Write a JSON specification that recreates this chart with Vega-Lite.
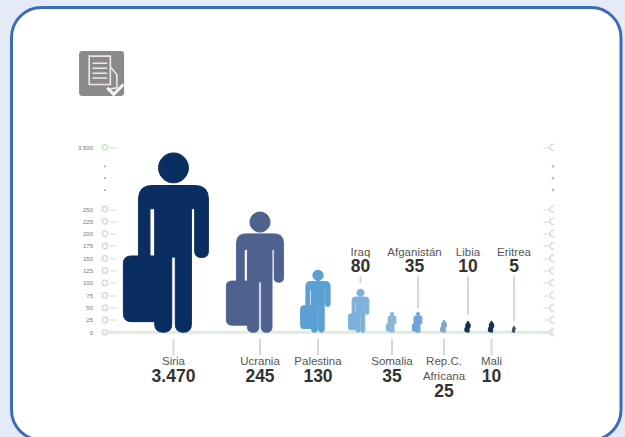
{"$schema":"https://vega.github.io/schema/vega-lite/v6.json","autosize":{"type":"none"},"padding":{"left":11.5,"top":7.5,"right":4,"bottom":0},"width":609.5,"height":432.5,"background":"#e4eaf6","view":{"fill":"#ffffff","stroke":"#3a6cb8","strokeWidth":3,"cornerRadius":30},"config":{"font":"Liberation Sans"},"datasets":{"paises":[{"pais":"Siria","valor":3470,"etiqueta":"3.470","orden":1,"lado":"abajo","desde":-13.5,"hasta":-46},{"pais":"Ucrania","valor":245,"etiqueta":"245","orden":2,"lado":"abajo","desde":-13.5,"hasta":-46},{"pais":"Palestina","valor":130,"etiqueta":"130","orden":3,"lado":"abajo","desde":-13.5,"hasta":-46},{"pais":"Iraq","valor":80,"etiqueta":"80","orden":4,"lado":"arriba","desde":113,"hasta":100},{"pais":"Somalia","valor":35,"etiqueta":"35","orden":5,"lado":"abajo","desde":-13.5,"hasta":-46},{"pais":"Afganistán","valor":35,"etiqueta":"35","orden":6,"lado":"arriba","desde":113,"hasta":49},{"pais":"Rep.C.|Africana","valor":25,"etiqueta":"25","orden":7,"lado":"abajo","desde":-13.5,"hasta":-46},{"pais":"Libia","valor":10,"etiqueta":"10","orden":8,"lado":"arriba","desde":113,"hasta":35},{"pais":"Mali","valor":10,"etiqueta":"10","orden":9,"lado":"abajo","desde":-13.5,"hasta":-46},{"pais":"Eritrea","valor":5,"etiqueta":"5","orden":10,"lado":"arriba","desde":113,"hasta":23}],"marcas":[{"v":0},{"v":25},{"v":50},{"v":75},{"v":100},{"v":125},{"v":150},{"v":175},{"v":200},{"v":225},{"v":250},{"v":3500}],"puntos":[{"v":1250},{"v":1875},{"v":2500}],"base":[{"desde":0,"hasta":11,"v":0}],"icono":[{"icono":"informe"}]},"resolve":{"axis":{"y":"independent"}},"layer":[{"data":{"name":"marcas"},"mark":{"type":"point","shape":"circle","filled":false,"stroke":"#c8e0ca","strokeWidth":1.3,"size":30,"opacity":1},"encoding":{"x":{"datum":0,"type":"quantitative","axis":null,"scale":{"type":"linear","domain":[0,1,2,3,4,5,6,7,8,9,10,11],"range":[93.5,162,248.5,306.5,349,380.5,406.5,432.5,456.5,480,502.5,541.5]}},"y":{"field":"v","type":"quantitative","scale":{"type":"linear","domain":[0,250,3500],"range":[324.8,201.5,139.8]},"axis":{"orient":"left","offset":-104.5,"values":[0,25,50,75,100,125,150,175,200,225,250,3500],"labelExpr":"datum.value==3500?'3.500':datum.label","domain":false,"grid":false,"title":null,"tickColor":"#d5e6d8","tickSize":6.5,"tickWidth":1.2,"labelPadding":17,"labelFontSize":6,"labelColor":"#777777","labelFont":"Liberation Sans"}}}},{"data":{"name":"marcas"},"mark":{"type":"point","shape":"M0.35,-0.94A1,1 0 1 0 0.35,0.94","filled":false,"stroke":"#c8e0ca","strokeWidth":1.3,"size":40,"opacity":1},"encoding":{"x":{"datum":11,"type":"quantitative","axis":null,"scale":{"type":"linear","domain":[0,1,2,3,4,5,6,7,8,9,10,11],"range":[93.5,162,248.5,306.5,349,380.5,406.5,432.5,456.5,480,502.5,541.5]}},"y":{"field":"v","type":"quantitative","scale":{"type":"linear","domain":[0,250,3500],"range":[324.8,201.5,139.8]},"axis":{"orient":"right","offset":-78,"values":[0,25,50,75,100,125,150,175,200,225,250,3500],"labels":false,"domain":false,"grid":false,"title":null,"tickColor":"#d5e6d8","tickSize":7,"tickWidth":1.2}}}},{"data":{"name":"puntos"},"mark":{"type":"point","shape":"square","filled":true,"color":"#aaaaaa","size":3,"opacity":1},"encoding":{"x":{"datum":0,"type":"quantitative","axis":null,"scale":{"type":"linear","domain":[0,1,2,3,4,5,6,7,8,9,10,11],"range":[93.5,162,248.5,306.5,349,380.5,406.5,432.5,456.5,480,502.5,541.5]}},"y":{"field":"v","type":"quantitative","axis":null,"scale":{"type":"linear","domain":[0,250,3500],"range":[324.8,201.5,139.8]}}}},{"data":{"name":"puntos"},"mark":{"type":"point","shape":"square","filled":true,"color":"#bbbbbb","size":6,"opacity":1},"encoding":{"x":{"datum":11,"type":"quantitative","axis":null,"scale":{"type":"linear","domain":[0,1,2,3,4,5,6,7,8,9,10,11],"range":[93.5,162,248.5,306.5,349,380.5,406.5,432.5,456.5,480,502.5,541.5]}},"y":{"field":"v","type":"quantitative","axis":null,"scale":{"type":"linear","domain":[0,250,3500],"range":[324.8,201.5,139.8]}}}},{"data":{"name":"base"},"mark":{"type":"rule","color":"#dfeae0","strokeWidth":3},"encoding":{"x":{"field":"desde","type":"quantitative","axis":null,"scale":{"type":"linear","domain":[0,1,2,3,4,5,6,7,8,9,10,11],"range":[93.5,162,248.5,306.5,349,380.5,406.5,432.5,456.5,480,502.5,541.5]}},"x2":{"field":"hasta"},"y":{"field":"v","type":"quantitative","axis":null,"scale":{"type":"linear","domain":[0,250,3500],"range":[324.8,201.5,139.8]}}}},{"data":{"name":"paises"},"mark":{"type":"rule","color":"#cddcd4","strokeWidth":2},"encoding":{"x":{"field":"orden","type":"quantitative","axis":null,"scale":{"type":"linear","domain":[0,1,2,3,4,5,6,7,8,9,10,11],"range":[93.5,162,248.5,306.5,349,380.5,406.5,432.5,456.5,480,502.5,541.5]}},"y":{"field":"desde","type":"quantitative","axis":null,"scale":{"type":"linear","domain":[0,250,3500],"range":[324.8,201.5,139.8]}},"y2":{"field":"hasta"}}},{"data":{"name":"paises"},"mark":{"type":"point","shape":"M-0.167,-1.837A0.167,0.167 0 1 1 0.167,-1.837A0.167,0.167 0 1 1 -0.167,-1.837ZM-0.24,-1.64L0.24,-1.64Q0.39,-1.64 0.39,-1.49L0.39,-0.905Q0.39,-0.835 0.315,-0.835Q0.237,-0.835 0.237,-0.905L0.237,-1.38L0.2,-1.38L0.2,-0.09Q0.2,0 0.11,0Q0.02,0 0.02,-0.09L0.02,-0.84L-0.02,-0.84L-0.02,-0.09Q-0.02,0 -0.11,0Q-0.21,0 -0.21,-0.09L-0.21,-0.119L-0.47,-0.119Q-0.56,-0.119 -0.56,-0.21L-0.56,-0.77Q-0.56,-0.853 -0.47,-0.853L-0.39,-0.853L-0.39,-1.49Q-0.39,-1.64 -0.24,-1.64ZM-0.263,-1.38L-0.263,-0.853L-0.21,-0.853L-0.21,-1.38Z","filled":true,"opacity":1,"strokeWidth":1},"encoding":{"x":{"field":"orden","type":"quantitative","axis":null,"scale":{"type":"linear","domain":[0,1,2,3,4,5,6,7,8,9,10,11],"range":[93.5,162,248.5,306.5,349,380.5,406.5,432.5,456.5,480,502.5,541.5]}},"y":{"datum":0,"type":"quantitative","axis":null,"scale":{"type":"linear","domain":[0,250,3500],"range":[324.8,201.5,139.8]}},"size":{"field":"valor","type":"quantitative","legend":null,"scale":{"type":"linear","domain":[5,10,25,35,80,130,245,3470],"range":[36,121,144,400,1849,3844,14400,32041]}},"color":{"field":"pais","type":"nominal","legend":null,"scale":{"domain":["Siria","Ucrania","Palestina","Iraq","Somalia","Afganistán","Rep.C.|Africana","Libia","Mali","Eritrea"],"range":["#0a2d62","#4f628f","#5b9fd3","#7db1da","#8ab4d8","#6fa3d6","#7fa5c9","#12305a","#12305a","#3a5068"]}},"stroke":{"field":"pais","type":"nominal","legend":null,"scale":{"domain":["Siria","Ucrania","Palestina","Iraq","Somalia","Afganistán","Rep.C.|Africana","Libia","Mali","Eritrea"],"range":["#0a2d62","#4f628f","#5b9fd3","#7db1da","#8ab4d8","#6fa3d6","#7fa5c9","#12305a","#12305a","#3a5068"]}}}},{"data":{"name":"paises"},"transform":[{"filter":"datum.lado=='abajo'"}],"mark":{"type":"text","fontSize":11.5,"color":"#555555","baseline":"top","lineBreak":"|","lineHeight":14.5},"encoding":{"x":{"field":"orden","type":"quantitative","axis":null,"scale":{"type":"linear","domain":[0,1,2,3,4,5,6,7,8,9,10,11],"range":[93.5,162,248.5,306.5,349,380.5,406.5,432.5,456.5,480,502.5,541.5]}},"y":{"datum":-49,"type":"quantitative","axis":null,"scale":{"type":"linear","domain":[0,250,3500],"range":[324.8,201.5,139.8]}},"text":{"field":"pais"}}},{"data":{"name":"paises"},"transform":[{"filter":"datum.lado=='abajo' && datum.orden!=7"}],"mark":{"type":"text","fontSize":17.5,"fontWeight":"bold","color":"#333333"},"encoding":{"x":{"field":"orden","type":"quantitative","axis":null,"scale":{"type":"linear","domain":[0,1,2,3,4,5,6,7,8,9,10,11],"range":[93.5,162,248.5,306.5,349,380.5,406.5,432.5,456.5,480,502.5,541.5]}},"y":{"datum":-90,"type":"quantitative","axis":null,"scale":{"type":"linear","domain":[0,250,3500],"range":[324.8,201.5,139.8]}},"text":{"field":"etiqueta"}}},{"data":{"name":"paises"},"transform":[{"filter":"datum.orden==7"}],"mark":{"type":"text","fontSize":17.5,"fontWeight":"bold","color":"#333333"},"encoding":{"x":{"field":"orden","type":"quantitative","axis":null,"scale":{"type":"linear","domain":[0,1,2,3,4,5,6,7,8,9,10,11],"range":[93.5,162,248.5,306.5,349,380.5,406.5,432.5,456.5,480,502.5,541.5]}},"y":{"datum":-122,"type":"quantitative","axis":null,"scale":{"type":"linear","domain":[0,250,3500],"range":[324.8,201.5,139.8]}},"text":{"field":"etiqueta"}}},{"data":{"name":"paises"},"transform":[{"filter":"datum.lado=='arriba' && datum.orden!=6"}],"mark":{"type":"text","fontSize":11.5,"color":"#555555"},"encoding":{"x":{"field":"orden","type":"quantitative","axis":null,"scale":{"type":"linear","domain":[0,1,2,3,4,5,6,7,8,9,10,11],"range":[93.5,162,248.5,306.5,349,380.5,406.5,432.5,456.5,480,502.5,541.5]}},"y":{"datum":161,"type":"quantitative","axis":null,"scale":{"type":"linear","domain":[0,250,3500],"range":[324.8,201.5,139.8]}},"text":{"field":"pais"}}},{"data":{"name":"paises"},"transform":[{"filter":"datum.lado=='arriba' && datum.orden!=6"}],"mark":{"type":"text","fontSize":17.5,"fontWeight":"bold","color":"#333333"},"encoding":{"x":{"field":"orden","type":"quantitative","axis":null,"scale":{"type":"linear","domain":[0,1,2,3,4,5,6,7,8,9,10,11],"range":[93.5,162,248.5,306.5,349,380.5,406.5,432.5,456.5,480,502.5,541.5]}},"y":{"datum":133,"type":"quantitative","axis":null,"scale":{"type":"linear","domain":[0,250,3500],"range":[324.8,201.5,139.8]}},"text":{"field":"etiqueta"}}},{"data":{"name":"paises"},"transform":[{"filter":"datum.orden==6"}],"mark":{"type":"text","fontSize":11.5,"color":"#555555","dx":-3.5},"encoding":{"x":{"field":"orden","type":"quantitative","axis":null,"scale":{"type":"linear","domain":[0,1,2,3,4,5,6,7,8,9,10,11],"range":[93.5,162,248.5,306.5,349,380.5,406.5,432.5,456.5,480,502.5,541.5]}},"y":{"datum":161,"type":"quantitative","axis":null,"scale":{"type":"linear","domain":[0,250,3500],"range":[324.8,201.5,139.8]}},"text":{"field":"pais"}}},{"data":{"name":"paises"},"transform":[{"filter":"datum.orden==6"}],"mark":{"type":"text","fontSize":17.5,"fontWeight":"bold","color":"#333333","dx":-3.5},"encoding":{"x":{"field":"orden","type":"quantitative","axis":null,"scale":{"type":"linear","domain":[0,1,2,3,4,5,6,7,8,9,10,11],"range":[93.5,162,248.5,306.5,349,380.5,406.5,432.5,456.5,480,502.5,541.5]}},"y":{"datum":133,"type":"quantitative","axis":null,"scale":{"type":"linear","domain":[0,250,3500],"range":[324.8,201.5,139.8]}},"text":{"field":"etiqueta"}}},{"data":{"name":"icono"},"mark":{"type":"point","shape":"M-0.85,-1L0.85,-1Q1,-1 1,-0.85L1,0.85Q1,1 0.85,1L-0.85,1Q-1,1 -1,0.85L-1,-0.85Q-1,-1 -0.85,-1Z","filled":true,"color":"#8a8a88","size":2025,"opacity":1,"strokeWidth":0},"encoding":{"x":{"datum":-0.05,"type":"quantitative","axis":null,"scale":{"type":"linear","domain":[0,1,2,3,4,5,6,7,8,9,10,11],"range":[93.5,162,248.5,306.5,349,380.5,406.5,432.5,456.5,480,502.5,541.5]}},"y":{"datum":7390,"type":"quantitative","axis":null,"scale":{"type":"linear","domain":[0,250,3500],"range":[324.8,201.5,139.8]}}}},{"data":{"name":"icono"},"mark":{"type":"point","shape":"M-0.55,-0.77L0.39,-0.77L0.39,0.49L-0.55,0.49ZM-0.4,-0.45L0.25,-0.45M-0.4,-0.23L0.25,-0.23M-0.4,-0.01L0.25,-0.01M-0.4,0.2L0.25,0.2M0.39,-0.3L0.68,0.06L0.68,0.64L0.25,0.71","filled":false,"stroke":"#efe6ea","strokeWidth":1.6,"size":2025,"opacity":1},"encoding":{"x":{"datum":-0.05,"type":"quantitative","axis":null,"scale":{"type":"linear","domain":[0,1,2,3,4,5,6,7,8,9,10,11],"range":[93.5,162,248.5,306.5,349,380.5,406.5,432.5,456.5,480,502.5,541.5]}},"y":{"datum":7390,"type":"quantitative","axis":null,"scale":{"type":"linear","domain":[0,250,3500],"range":[324.8,201.5,139.8]}}}},{"data":{"name":"icono"},"mark":{"type":"point","shape":"M0.25,0.64L0.54,0.93L0.97,0.49","filled":false,"stroke":"#f2f7ee","strokeWidth":3,"size":2025,"opacity":1},"encoding":{"x":{"datum":-0.05,"type":"quantitative","axis":null,"scale":{"type":"linear","domain":[0,1,2,3,4,5,6,7,8,9,10,11],"range":[93.5,162,248.5,306.5,349,380.5,406.5,432.5,456.5,480,502.5,541.5]}},"y":{"datum":7390,"type":"quantitative","axis":null,"scale":{"type":"linear","domain":[0,250,3500],"range":[324.8,201.5,139.8]}}}}]}
